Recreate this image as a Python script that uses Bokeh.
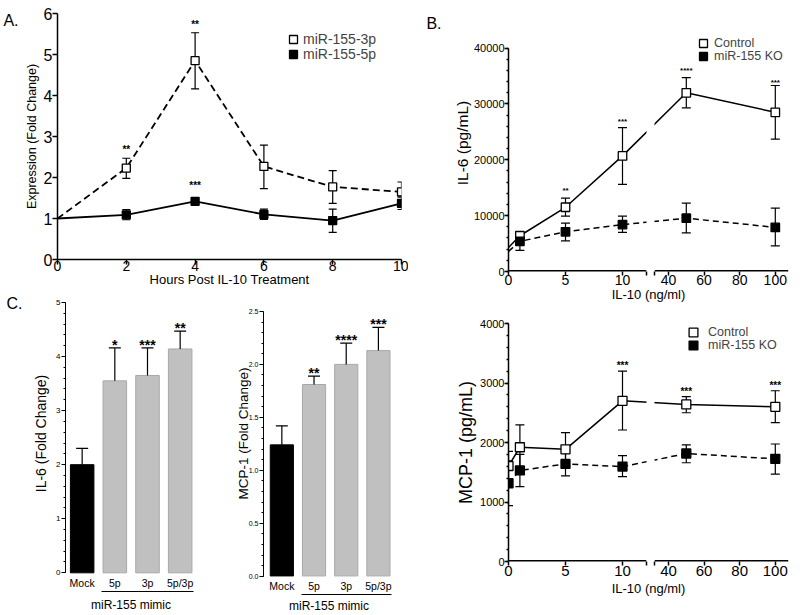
import numpy as np
from bokeh.plotting import figure
from bokeh.layouts import row, column
from bokeh.models import (ColumnDataSource, Legend, LegendItem, FixedTicker,
                          LinearAxis, Range1d, BoxAnnotation, NumeralTickFormatter)
from bokeh.core.properties import value
from bokeh.embed import file_html
from bokeh.resources import INLINE

FONT = "Liberation Sans"

# ---------------- Panel A data ----------------
hours = [0, 2, 4, 6, 8, 10]
mir155_3p = [1.00, 2.23, 4.85, 2.27, 1.77, 1.65]
mir155_3p_low = [1.00, 1.98, 4.16, 1.73, 1.37, 1.55]
mir155_3p_high = [1.00, 2.47, 5.53, 2.79, 2.17, 1.89]
mir155_5p = [1.00, 1.09, 1.42, 1.10, 0.95, 1.37]
mir155_5p_low = [1.00, 0.97, 1.37, 0.98, 0.66, 1.22]
mir155_5p_high = [1.00, 1.22, 1.46, 1.23, 1.23, 1.52]
a_sig_hours = [2, 4, 4]
a_sig_level = [2.73, 5.79, 1.85]
a_sig_text = ["**", "**", "***"]
a_xticks = [0, 2, 4, 6, 8, 10]
a_yticks = [0, 1, 2, 3, 4, 5, 6]

# ---------------- Panel B data ----------------
il10_dose = [0, 1, 5, 10, 50, 100]
il6_control = [4300, 6400, 11500, 20700, 32000, 28500]
il6_control_low = [3600, 5800, 9900, 15600, 29300, 23700]
il6_control_high = [5000, 7000, 13150, 25750, 34700, 33300]
il6_ko = [3600, 5400, 7100, 8400, 9550, 7900]
il6_ko_low = [2200, 3800, 5500, 7000, 6900, 4600]
il6_ko_high = [5000, 6700, 8650, 9900, 12250, 11350]
il6_sig_dose = [5, 10, 50, 100]
il6_sig_level = [14900, 27200, 36300, 34200]
il6_sig_text = ["**", "***", "****", "***"]
il6_yticks = [0, 10000, 20000, 30000, 40000]

mcp1_control = [1605, 1920, 1885, 2700, 2640, 2600]
mcp1_control_low = [1360, 1565, 1595, 2210, 2500, 2335]
mcp1_control_high = [1850, 2295, 2165, 3200, 2770, 2870]
mcp1_ko = [1315, 1530, 1640, 1595, 1815, 1725]
mcp1_ko_low = [940, 1260, 1440, 1425, 1660, 1470]
mcp1_ko_high = [1690, 1800, 1830, 1780, 1960, 1975]
mcp1_sig_dose = [10, 50, 100]
mcp1_sig_level = [3330, 2890, 2990]
mcp1_sig_text = ["***", "***", "***"]
mcp1_yticks = [0, 1000, 2000, 3000, 4000]

b_xticks_low = [0, 5, 10]
b_xticks_high = [40, 60, 80, 100]

# ---------------- Panel C data ----------------
conditions = ["Mock", "5p", "3p", "5p/3p"]
mimic_group = ["5p", "3p", "5p/3p"]
il6_fold = [2.00, 3.55, 3.65, 4.14]
il6_fold_high = [2.30, 4.16, 4.16, 4.47]
il6_fold_sig = ["", "*", "***", "**"]
il6_fold_sig_level = [2.30, 4.27, 4.27, 4.58]
mcp1_fold = [1.24, 1.81, 2.00, 2.13]
mcp1_fold_high = [1.42, 1.89, 2.20, 2.35]
mcp1_fold_sig = ["", "**", "****", "***"]
mcp1_fold_sig_level = [1.42, 1.95, 2.26, 2.41]
c1_yticks = [0, 1, 2, 3, 4, 5]
c2_yticks = [0, 0.5, 1.0, 1.5, 2.0, 2.5]

# ---------------- broken x scale for panel B ----------------
SEG1_MAX = 12.1      # ng/ml where the low segment ends
LOW_SCALE = 11.4
HIGH_SCALE = 1.78
BREAK_LEFT, BREAK_RIGHT, B_XEND = 138.0, 146.0, 280.0


def bx(d):
    d = np.asarray(d, dtype=float)
    return np.where(d <= SEG1_MAX, d * LOW_SCALE, 160.0 + (d - 40.0) * HIGH_SCALE).tolist()


def base_fig(w, h, xr, yr, l, r, t, b):
    p = figure(width=w, height=h, x_range=xr, y_range=yr, output_backend="svg",
               toolbar_location=None, min_border_left=l, min_border_right=r,
               min_border_top=t, min_border_bottom=b)
    p.title_location = None
    p.outline_line_color = None
    p.xgrid.visible = False
    p.ygrid.visible = False
    p.background_fill_color = "white"
    p.border_fill_color = "white"
    return p


def style_axis(ax, lw, tick_out, minor_out, lab, lab_so, alab, alab_so):
    ax.axis_line_width = lw
    ax.axis_line_color = "black"
    ax.major_tick_line_width = lw
    ax.minor_tick_line_width = lw
    ax.major_tick_line_color = "black"
    ax.minor_tick_line_color = "black"
    ax.major_tick_out = tick_out
    ax.major_tick_in = 0
    ax.minor_tick_out = minor_out
    ax.minor_tick_in = 0
    ax.major_label_text_font = FONT
    ax.major_label_text_font_size = f"{lab}px"
    ax.major_label_text_color = "black"
    ax.major_label_text_line_height = 1.0
    ax.major_label_standoff = lab_so
    ax.axis_label_text_font = FONT
    ax.axis_label_text_font_size = f"{alab}px"
    ax.axis_label_text_font_style = "normal"
    ax.axis_label_text_color = "black"
    ax.axis_label_text_line_height = 1.0
    ax.axis_label_standoff = alab_so


def panel_letter(p, txt, y, standoff):
    ax = LinearAxis(ticker=FixedTicker(ticks=[y]), major_label_overrides={float(y): txt},
                    axis_line_color=None, major_tick_line_color=None,
                    minor_tick_line_color=None, major_tick_out=0, major_tick_in=0,
                    minor_tick_out=0, minor_tick_in=0, major_label_standoff=standoff,
                    major_label_text_font=FONT, major_label_text_font_size="16px",
                    major_label_text_color="black")
    p.add_layout(ax, "left")


def errorbars(p, x, lo, hi, cap, lw=1.2):
    src = ColumnDataSource(dict(x=x, lo=lo, hi=hi))
    p.segment(x0="x", y0="lo", x1="x", y1="hi", source=src, line_color="black", line_width=lw)
    p.scatter(x="x", y="lo", marker="dash", size=cap, source=src, line_color="black", line_width=lw)
    p.scatter(x="x", y="hi", marker="dash", size=cap, source=src, line_color="black", line_width=lw)


def stars(p, x, y, txt, size):
    p.text(x=x, y=y, text=txt, text_font=value(FONT), text_font_size=f"{size}px",
           text_font_style="bold", text_align="center", text_baseline="middle",
           y_offset=round(0.23 * size), text_color="black")


def one_legend(p, label, renderers, loc, font, glyph, standoff):
    leg = Legend(items=[LegendItem(label=label, renderers=renderers)], location=loc,
                 glyph_width=glyph, glyph_height=glyph, label_height=glyph, spacing=0,
                 padding=0, margin=0, label_standoff=standoff, label_text_font=FONT,
                 label_text_font_size=f"{font}px", border_line_color=None,
                 background_fill_alpha=0)
    p.add_layout(leg)


# ================= Panel A =================
pA = base_fig(408, 290, Range1d(0, 10), Range1d(0, 6), 55, 7, 13, 31)
style_axis(pA.xaxis[0], 1.5, 5, 0, 14, -4, 13, -2)
style_axis(pA.yaxis[0], 1.5, 5, 0, 16, 0, 12.5, 2)
pA.xaxis.ticker = FixedTicker(ticks=a_xticks)
pA.yaxis.ticker = FixedTicker(ticks=a_yticks)
pA.xaxis.axis_label = "Hours Post IL-10 Treatment"
pA.yaxis.axis_label = "Expression (Fold Change)"

srcA = ColumnDataSource(dict(h=hours, p3=mir155_3p, p5=mir155_5p))
pA.line("h", "p3", source=srcA, line_dash="7 4", line_width=1.8, line_color="black")
pA.line("h", "p5", source=srcA, line_width=1.8, line_color="black")
errorbars(pA, hours[1:], mir155_3p_low[1:], mir155_3p_high[1:], 8)
errorbars(pA, hours[1:], mir155_5p_low[1:], mir155_5p_high[1:], 8)
rA3 = pA.scatter(hours[1:], mir155_3p[1:], marker="square", size=8, fill_color="white",
                 line_color="black", line_width=1.3)
rA5 = pA.scatter(hours[1:], mir155_5p[1:], marker="square", size=8, fill_color="black",
                 line_color="black", line_width=1.3)
dA = pA.scatter([], [], marker="dash", size=8, line_color="black", line_width=1.3)
stars(pA, a_sig_hours, a_sig_level, a_sig_text, 10)
one_legend(pA, "miR-155-3p", [dA, rA3], (226, 210), 14, 20, 0)
one_legend(pA, "miR-155-5p", [dA, rA5], (226, 195), 14, 20, 0)
panel_letter(pA, "A.", 5.83, 3)


# ================= Panel B helper =================
def panel_b(height, tb, frame_h, px_per_top, yticks, minor_step, ylab, ylab_size, ylab_so,
            xlab_size, xlab_so, ctrl, ctrl_lo, ctrl_hi, ko, ko_lo, ko_hi,
            sig_dose, sig_level, sig_text, sig_size, msize, first, leg_locs, leg_glyph, leg_so):
    yend = yticks[-1] * frame_h / px_per_top
    bb = height - tb - frame_h
    p = base_fig(392, height, Range1d(0, B_XEND), Range1d(0, yend), 100, 12, tb, bb)
    style_axis(p.xaxis[0], 1.5, 4, 0, xlab_size, xlab_so[0], 13, xlab_so[1])
    style_axis(p.yaxis[0], 1.5, 4, 2, 11, 0, ylab_size, ylab_so)
    p.xaxis.axis_line_color = None
    tick_pos = bx(b_xticks_low) + bx(b_xticks_high) + [BREAK_LEFT, BREAK_RIGHT]
    tick_txt = [str(v) for v in b_xticks_low + b_xticks_high] + ["", ""]
    p.xaxis.ticker = FixedTicker(ticks=tick_pos)
    p.xaxis.major_label_overrides = {float(t): s for t, s in zip(tick_pos, tick_txt)}
    p.xaxis.axis_label = "IL-10 (ng/ml)"
    p.yaxis.bounds = (0, yticks[-1])
    p.yaxis.ticker = FixedTicker(ticks=yticks,
                                 minor_ticks=list(np.arange(0, yticks[-1] + 1, minor_step)))
    p.yaxis.axis_label = ylab
    # broken x axis line (half of it clipped at the frame edge)
    p.segment(x0=[0, BREAK_RIGHT], y0=[0, 0], x1=[BREAK_LEFT, B_XEND], y1=[0, 0],
              line_color="black", line_width=3)

    t = bx(il10_dose)
    src = ColumnDataSource(dict(t=t, c=ctrl, k=ko))
    p.line("t", "c", source=src, line_width=1.5, line_color="black")
    p.line("t", "k", source=src, line_width=1.5, line_color="black", line_dash="6 4")
    errorbars(p, t[first:], ctrl_lo[first:], ctrl_hi[first:], 9)
    errorbars(p, t[first:], ko_lo[first:], ko_hi[first:], 9)
    rc = p.scatter(t[first:], ctrl[first:], marker="square", size=msize, fill_color="white",
                   line_color="black", line_width=1.3)
    rk = p.scatter(t[first:], ko[first:], marker="square", size=msize, fill_color="black",
                   line_color="black", line_width=1.3)
    dl = p.scatter([], [], marker="dash", size=8, line_color="black", line_width=1.3)
    p.add_layout(BoxAnnotation(left=BREAK_LEFT, right=BREAK_RIGHT, fill_color="white",
                               fill_alpha=1.0, line_alpha=0))
    stars(p, bx(sig_dose), sig_level, sig_text, sig_size)
    one_legend(p, "Control", [dl, rc], leg_locs[0], 12.5, leg_glyph, leg_so)
    one_legend(p, "miR-155 KO", [dl, rk], leg_locs[1], 12.5, leg_glyph, leg_so)
    return p


pB1 = panel_b(307, 14, 257, 223.4, il6_yticks, 2000, "IL-6 (pg/mL)", 15.5, 0,
              14, (-1, -1), il6_control, il6_control_low, il6_control_high,
              il6_ko, il6_ko_low, il6_ko_high, il6_sig_dose, il6_sig_level,
              il6_sig_text, 8, 8.5, 1, [(185, 218), (185, 205)], 20, 1)
panel_letter(pB1, "B.", 44400, 9)

pB2 = panel_b(308, 16, 238, 238, mcp1_yticks, 200, "MCP-1 (pg/mL)", 18, 1,
              15, (0, 2), mcp1_control, mcp1_control_low, mcp1_control_high,
              mcp1_ko, mcp1_ko_low, mcp1_ko_high, mcp1_sig_dose, mcp1_sig_level,
              mcp1_sig_text, 10, 9, 0, [(174, 218), (174, 205)], 22, 4)

# ================= Panel C helper =================
C_H, C_TOP, C_BOTTOM = 325, 0, 38          # both bar charts share their borders
C_FRAME = C_H - C_TOP - C_BOTTOM


def panel_c(xr, lb, rb, zero_px, top_px, ytop, yticks, minor_step, ylab, ylab_size,
            ylab_so, tick_size, vals, highs, sig, sig_level, fmt, lab_so, mimic_so):
    ppu = (C_FRAME - zero_px - top_px) / ytop
    yr = Range1d(-zero_px / ppu, ytop + top_px / ppu)
    p = base_fig(204, C_H, Range1d(*xr), yr, lb, rb, C_TOP, C_BOTTOM)
    style_axis(p.xaxis[0], 1.0, 0, 0, 10.5, lab_so, 12, 0)
    style_axis(p.yaxis[0], 1.0, 4, 2, tick_size, 1, ylab_size, ylab_so)
    idx = list(range(len(conditions)))
    p.xaxis.axis_line_color = None
    p.xaxis.ticker = FixedTicker(ticks=idx)
    p.xaxis.major_label_overrides = {i: c for i, c in zip(idx, conditions)}
    p.yaxis.bounds = (0, ytop)
    p.yaxis.ticker = FixedTicker(ticks=yticks,
                                 minor_ticks=list(np.arange(0, ytop + 1e-9, minor_step)))
    if fmt:
        p.yaxis.formatter = NumeralTickFormatter(format=fmt)
    p.yaxis.axis_label = ylab
    gidx = [conditions.index(c) for c in mimic_group]
    ax2 = LinearAxis(bounds=(min(gidx) - 0.4, max(gidx) + 0.4), ticker=FixedTicker(ticks=[]),
                     axis_label="miR-155 mimic")
    style_axis(ax2, 1.2, 0, 0, 10, 0, 12, mimic_so)
    p.add_layout(ax2, "below")

    colors = ["black" if c == "Mock" else "#C0C0C0" for c in conditions]
    lines = ["black" if c == "Mock" else "#A8A8A8" for c in conditions]
    src = ColumnDataSource(dict(x=idx, top=vals, hi=highs, fc=colors, lc=lines))
    p.vbar(x="x", top="top", bottom=0, width=0.72, source=src, fill_color="fc",
           line_color="lc", line_width=1)
    p.segment(x0="x", y0="top", x1="x", y1="hi", source=src, line_color="black", line_width=1.2)
    p.scatter(x="x", y="hi", marker="dash", size=12, source=src, line_color="black",
              line_width=1.2)
    stars(p, idx, sig_level, sig, 14)
    return p


pC1 = panel_c((-0.51, 3.5), 65, 8, 3.7, 12, 5, c1_yticks, 0.2, "IL-6 (Fold Change)", 14, 4,
              8, il6_fold, il6_fold_high, il6_fold_sig, il6_fold_sig_level, None, 0, 6)
panel_letter(pC1, "C.", 5.14, 8)
pC2 = panel_c((-0.57, 3.5), 59, 14, 0.3, 21, 2.5, c2_yticks, 0.1, "MCP-1 (Fold Change)",
              13.5, -5, 7, mcp1_fold, mcp1_fold_high, mcp1_fold_sig, mcp1_fold_sig_level,
              "0.0", 3, 4)

layout = row(column(pA, row(pC1, pC2, spacing=0), spacing=0),
             column(pB1, pB2, spacing=0), spacing=0)

open("out.html", "w").write(file_html(layout, INLINE))
